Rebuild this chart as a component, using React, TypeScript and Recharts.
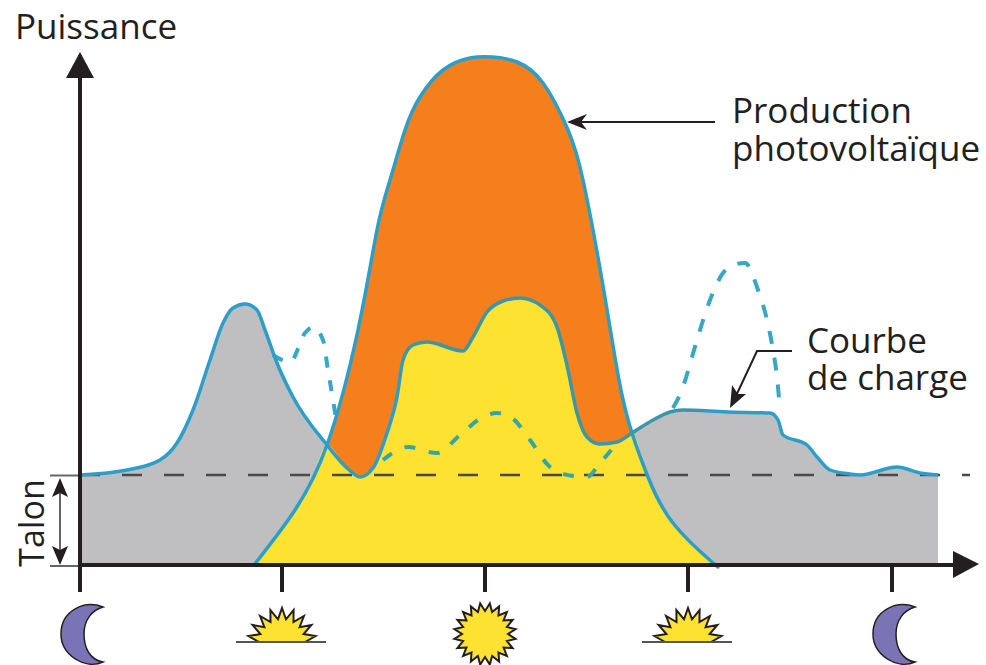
import { ComposedChart, Area, Line, XAxis, YAxis, ReferenceLine } from 'recharts'

// diagram has no numeric scale: time and power are in arbitrary units
const dayTicks = [0, 202, 405, 608, 812]
const dayIcons = ['moon', 'sunrise', 'sun', 'sunrise', 'moon']
const talon = 90

const pvTime = [174, 213, 247, 278, 297, 310, 325, 340, 363, 390, 413, 437, 463, 488, 503, 522, 539, 552, 568, 593, 632, 636]
const pvPower = [0, 52, 120, 235, 335, 385, 435, 468, 495, 507, 508, 503, 482, 435, 385, 285, 185, 132, 88, 42, 3, 0]

const loadTime = [0, 47, 80, 97, 113, 130, 143, 153, 165, 177, 185, 197, 213, 247, 267, 280, 293, 307, 317, 323, 333, 347, 383, 393, 407, 423, 440, 460, 477, 488, 497, 507, 520, 537, 552, 573, 590, 603, 647, 690, 698, 703, 727, 737, 750, 770, 780, 817, 840, 858]
const loadPower = [90, 95, 105, 122, 155, 205, 242, 257, 261, 255, 235, 202, 168, 120, 97, 88, 97, 132, 168, 205, 220, 223, 214, 228, 253, 264, 267, 260, 238, 195, 152, 128, 121, 123, 132, 145, 153, 155, 153, 152, 145, 130, 120, 108, 95, 91, 90, 98, 92, 90]

const selfTime = [174, 213, 233, 247, 267, 280, 293, 307, 317, 323, 333, 347, 383, 393, 407, 423, 440, 460, 477, 488, 497, 507, 520, 537, 552, 568, 593, 632, 636]
const selfPower = [0, 52, 88, 120, 97, 88, 97, 132, 168, 205, 220, 223, 214, 228, 253, 264, 267, 260, 238, 195, 152, 128, 121, 123, 132, 88, 42, 3, 0]

// load before shifting, dashed
const morningTime = [193, 210, 225, 233, 243, 248, 253, 257]
const morningPower = [210, 203, 232, 238, 225, 195, 165, 140]
const noonTime = [303, 328, 357, 380, 403, 417, 432, 450, 470, 493, 507, 520, 537]
const noonPower = [105, 118, 112, 130, 148, 152, 147, 125, 98, 89, 88, 102, 122]
const eveningTime = [593, 603, 612, 620, 630, 643, 653, 665, 678, 687, 693, 697, 700]
const eveningPower = [157, 178, 208, 235, 265, 292, 300, 302, 275, 245, 215, 188, 155]

const zip = (t: number[], v: number[]) => t.map((x, i) => ({ t: x, v: v[i] }))

const INK = '#231f20'
const BLUE = '#2c9fc8'
const TEAL = '#3a97a8'
const GREY = '#bfbec0'
const ORANGE = '#f57f1d'
const YELLOW = '#fde231'
const MOON = '#7a74b6'
const FONT = '"Open Sans", sans-serif'

function starPoints(r1: number, r2: number, spikes: number, from: number, to: number) {
  const pts: string[] = []
  const n = spikes * 2
  for (let i = 0; i <= n; i++) {
    const a = from + ((to - from) * i) / n
    const r = i % 2 ? r1 : r2
    pts.push(`${(r * Math.cos(a)).toFixed(1)},${(r * Math.sin(a)).toFixed(1)}`)
  }
  return pts.join(' ')
}

function DayIcon({ x, y, index }: { x?: number; y?: number; index?: number }) {
  const kind = dayIcons[index ?? 0]
  const top = y ?? 594
  if (kind === 'moon') {
    return (
      <path
        transform={`translate(${x},${top})`}
        d="M23 13 C5 6 -19 16 -19 40 C-19 61 5 76 23 68 C10 66 4 54 4 40 C4 26 12 16 23 13 Z"
        fill={MOON}
        stroke={INK}
        strokeWidth={1.5}
      />
    )
  }
  if (kind === 'sun') {
    return (
      <g transform={`translate(${x},${top + 40})`}>
        <polygon points={starPoints(31, 23, 20, 0, Math.PI * 2)} fill={YELLOW} stroke={INK} strokeWidth={2} />
      </g>
    )
  }
  return (
    <g transform={`translate(${x},${top + 48})`}>
      <polygon points={starPoints(34, 23, 9, Math.PI, Math.PI * 2)} fill={YELLOW} stroke={INK} strokeWidth={2} />
      <line x1={-46} x2={44} y1={0} y2={0} stroke="#555" strokeWidth={2} />
    </g>
  )
}

const labelStyle = { fontFamily: FONT, fontSize: 35, fill: INK }

export default function App() {
  return (
    <div style={{ position: 'absolute', left: 0, top: 0, background: '#fff' }}>
      <ComposedChart width={986} height={665} margin={{ top: 55, right: 16, bottom: 0, left: 0 }}>
        <defs>
          <linearGradient id="loadStroke" x1="0" y1="0" x2="1" y2="0">
            <stop offset="0.37" stopColor={BLUE} />
            <stop offset="0.38" stopColor={TEAL} />
            <stop offset="0.72" stopColor={TEAL} />
            <stop offset="0.73" stopColor={BLUE} />
          </linearGradient>
        </defs>
        <XAxis
          type="number"
          dataKey="t"
          domain={[0, 890]}
          ticks={dayTicks}
          interval={0}
          height={100}
          tickSize={27}
          tick={<DayIcon />}
          axisLine={{ stroke: INK, strokeWidth: 4 }}
          tickLine={{ stroke: INK, strokeWidth: 4 }}
        />
        <YAxis
          type="number"
          domain={[0, 510]}
          width={80}
          ticks={[]}
          tick={false}
          axisLine={{ stroke: INK, strokeWidth: 4 }}
          tickLine={false}
        />
        <Area data={zip(loadTime, loadPower)} dataKey="v" type="monotone" fill={GREY} fillOpacity={1} stroke="none" isAnimationActive={false} />
        <Area data={zip(pvTime, pvPower)} dataKey="v" type="natural" fill={ORANGE} fillOpacity={1} stroke="none" isAnimationActive={false} />
        <Area data={zip(selfTime, selfPower)} dataKey="v" type="monotone" fill={YELLOW} fillOpacity={1} stroke="none" isAnimationActive={false} />
        <ReferenceLine y={talon} stroke="#4a4a4c" strokeWidth={2.5} strokeDasharray="20 22" />
        <Line data={zip(morningTime, morningPower)} dataKey="v" type="monotone" dot={false} stroke="#36a7c4" strokeWidth={4} strokeDasharray="11 13" isAnimationActive={false} />
        <Line data={zip(noonTime, noonPower)} dataKey="v" type="monotone" dot={false} stroke="#35a5a8" strokeWidth={4} strokeDasharray="11 14" isAnimationActive={false} />
        <Line data={zip(eveningTime, eveningPower)} dataKey="v" type="monotone" dot={false} stroke="#36a7c4" strokeWidth={4} strokeDasharray="13 14" isAnimationActive={false} />
        <Line data={zip(pvTime, pvPower)} dataKey="v" type="natural" dot={false} stroke={BLUE} strokeWidth={3.5} isAnimationActive={false} />
        <Line data={zip(loadTime, loadPower)} dataKey="v" type="monotone" dot={false} stroke="url(#loadStroke)" strokeWidth={3.5} isAnimationActive={false} />

        {/* axis arrow heads */}
        <polygon points="80,52 66,78 94,78" fill={INK} />
        <polygon points="979,564 953,551 953,578" fill={INK} />

        {/* talon bracket */}
        <line x1={50} x2={80} y1={475.5} y2={475.5} stroke="#666" strokeWidth={2} />
        <line x1={50} x2={80} y1={566} y2={566} stroke="#666" strokeWidth={2} />
        <line x1={60} x2={60} y1={490} y2={550} stroke="#666" strokeWidth={2} />
        <polygon points="60,478 52,497 60,493 68,497" fill={INK} />
        <polygon points="60,565 52,546 60,550 68,546" fill={INK} />
        <text transform="translate(44,523) rotate(-90)" textAnchor="middle" {...labelStyle} fontSize={34}>Talon</text>

        <text x={15} y={39} {...labelStyle}>Puissance</text>
        <text x={481} y={253} textAnchor="middle" {...labelStyle} fontSize={32} fill="#5a2a14">Surplus</text>

        {/* callouts */}
        <line x1={572} x2={715} y1={122} y2={122} stroke={INK} strokeWidth={2} />
        <polygon points="567,122 587,114 581,122 587,130" fill={INK} />
        <text x={732} y={123} {...labelStyle}>Production</text>
        <text x={732} y={161} {...labelStyle}>photovoltaïque</text>

        <polyline points="792,351 757,351 735,398" fill="none" stroke={INK} strokeWidth={2} />
        <polygon points="730,408 732,385 738,394 746,394" fill={INK} />
        <text x={807} y={353} {...labelStyle}>Courbe</text>
        <text x={807} y={390} {...labelStyle}>de charge</text>
      </ComposedChart>
    </div>
  )
}
